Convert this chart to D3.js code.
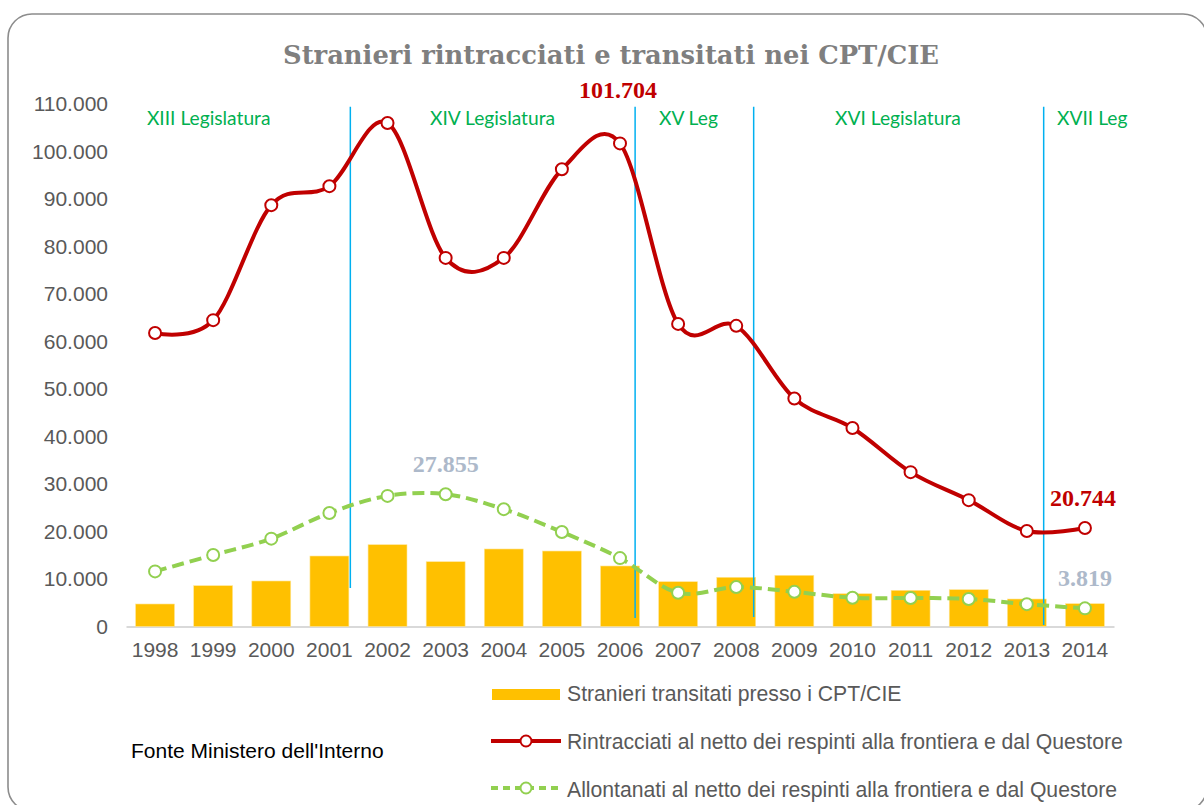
<!DOCTYPE html>
<html>
<head>
<meta charset="utf-8">
<script src="https://cdn.jsdelivr.net/npm/d3@7/dist/d3.min.js"></script>
<style>
  html, body { margin: 0; padding: 0; background: #fff; }
  svg { display: block; }
</style>
</head>
<body>
<svg id="chart" width="1204" height="805"></svg>
<script>
// ---------- DATA ----------
const years = ["1998","1999","2000","2001","2002","2003","2004","2005","2006","2007","2008","2009","2010","2011","2012","2013","2014"];
const transitati = [4740, 8590, 9580, 14840, 17220, 13640, 16320, 15890, 12740, 9430, 10360, 10780, 6900, 7620, 7750, 5790, 4800];
const rintracciati = [61800, 64500, 88700, 92700, 106000, 77600, 77600, 96250, 101704, 63700, 63300, 48000, 41800, 32500, 26600, 20100, 20744];
const allontanati = [11600, 15050, 18500, 23900, 27500, 27855, 24700, 19900, 14400, 7100, 8300, 7300, 6050, 6000, 5800, 4700, 3819];
const yTicks = [0, 10000, 20000, 30000, 40000, 50000, 60000, 70000, 80000, 90000, 100000, 110000];
const legislature = ["XIII Legislatura", "XIV Legislatura", "XV Leg", "XVI Legislatura", "XVII Leg"];
const legislatureStart = [2001.36, 2006.26, 2008.30, 2013.29];   // boundaries (fractional year)
const legislatureLineBottom = [8100, 1800, 2000, 300];           // lower end of each boundary line (value units)
const legislatureLabelAt = [1997.86, 2002.73, 2006.67, 2009.70, 2013.52];
const highlightRed = [{year: "2006", value: 101704}, {year: "2014", value: 20744}];
const highlightGreen = [{year: "2003", value: 27855}, {year: "2014", value: 3819}];
const seriesNames = ["Stranieri transitati presso i CPT/CIE",
                     "Rintracciati al netto dei respinti alla frontiera e dal Questore",
                     "Allontanati al netto dei respinti alla frontiera e dal Questore"];
const titleText = "Stranieri rintracciati e transitati nei CPT/CIE";
const sourceText = "Fonte Ministero dell'Interno";

// ---------- STYLE ----------
const C = {
  bar: "#FFC000", red: "#C00000", green: "#92D050", leg: "#00B050",
  vline: "#00B0F0", axisText: "#595959", axisLine: "#D9D9D9",
  title: "#7F7F7F", greenLabel: "#ADB9CA", frame: "#8C8C8C"
};
const sans = "'Liberation Sans', Arial, sans-serif";
const serif = "'Liberation Serif', 'Times New Roman', serif";
const titleSerif = "'DejaVu Serif', serif";
const cal = "Lato, 'Open Sans', sans-serif";

const svg = d3.select("#chart");
const loc = d3.formatLocale({decimal: ",", thousands: ".", grouping: [3], currency: ["", "€"]});
const fmt = loc.format(",d");

// frame
svg.append("rect").attr("x", 8).attr("y", 14).attr("width", 1199).attr("height", 797)
  .attr("rx", 24).attr("ry", 24).attr("fill", "#fff").attr("stroke", C.frame).attr("stroke-width", 1.6);

// scales
const x = d3.scaleBand().domain(years).range([126, 1114]).paddingInner(0.33).paddingOuter(0.165);
const bw = x.bandwidth();
const cx = d => x(d) + bw / 2;
const xc = d3.scaleLinear().domain([1998, 2014]).range([cx("1998"), cx("2014")]);
const y = d3.scaleLinear().domain([0, 110000]).range([626.5, 104]);

// title
svg.append("text").attr("x", 611).attr("y", 64).attr("text-anchor", "middle")
  .attr("font-family", titleSerif).attr("font-weight", "bold").attr("font-size", 25.8)
  .attr("fill", C.title).text(titleText);

// y axis
const yAxis = d3.axisLeft(y).tickValues(yTicks).tickFormat(d => fmt(d)).tickSize(0).tickPadding(0);
const gy = svg.append("g").attr("transform", "translate(108,0)").call(yAxis);
gy.select(".domain").remove();
gy.selectAll("text").attr("font-family", sans).attr("font-size", 21).attr("fill", C.axisText);

// x axis
const xAxis = d3.axisBottom(x).tickSize(0).tickPadding(16);
const gx = svg.append("g").attr("transform", `translate(0,${y(0)})`).call(xAxis);
gx.select(".domain").attr("stroke", C.axisLine).attr("stroke-width", 2);
gx.selectAll("text").attr("font-family", sans).attr("font-size", 21).attr("fill", C.axisText);

// bars
svg.append("g").selectAll("rect").data(transitati).join("rect")
  .attr("x", (d, i) => x(years[i])).attr("width", bw)
  .attr("y", d => y(d)).attr("height", d => y(0) - y(d))
  .attr("fill", C.bar).attr("stroke", "#FFE699").attr("stroke-width", 0.6);

// legislature boundary lines
svg.append("g").selectAll("line").data(legislatureStart).join("line")
  .attr("x1", d => xc(d)).attr("x2", d => xc(d))
  .attr("y1", y(109400)).attr("y2", (d, i) => y(legislatureLineBottom[i]))
  .attr("stroke", C.vline).attr("stroke-width", 1.5);

// legislature labels
svg.append("g").selectAll("text").data(legislature).join("text")
  .attr("x", (d, i) => xc(legislatureLabelAt[i])).attr("y", y(105500))
  .attr("font-family", cal).attr("font-size", 19.2).attr("fill", C.leg).text(d => d);

// lines
const line = d3.line().x((d, i) => cx(years[i])).y(d => y(d)).curve(d3.curveCatmullRom.alpha(0));

svg.append("path").datum(allontanati).attr("d", line)
  .attr("fill", "none").attr("stroke", C.green).attr("stroke-width", 4)
  .attr("stroke-dasharray", "12,6");
svg.append("path").datum(rintracciati).attr("d", line)
  .attr("fill", "none").attr("stroke", C.red).attr("stroke-width", 4);

svg.append("g").selectAll("circle").data(allontanati).join("circle")
  .attr("cx", (d, i) => cx(years[i])).attr("cy", d => y(d)).attr("r", 6)
  .attr("fill", "#fff").attr("stroke", C.green).attr("stroke-width", 2);
svg.append("g").selectAll("circle").data(rintracciati).join("circle")
  .attr("cx", (d, i) => cx(years[i])).attr("cy", d => y(d)).attr("r", 6)
  .attr("fill", "#fff").attr("stroke", C.red).attr("stroke-width", 2);

// data labels
svg.append("g").selectAll("text").data(highlightRed).join("text")
  .attr("x", d => cx(d.year) - 2).attr("y", (d, i) => i === 0 ? 98 : y(d.value) - 22)
  .attr("text-anchor", "middle").attr("font-family", serif).attr("font-weight", "bold")
  .attr("font-size", 24).attr("fill", C.red).text(d => fmt(d.value));
svg.append("g").selectAll("text").data(highlightGreen).join("text")
  .attr("x", d => cx(d.year)).attr("y", d => y(d.value) - 22)
  .attr("text-anchor", "middle").attr("font-family", serif).attr("font-weight", "bold")
  .attr("font-size", 24).attr("fill", C.greenLabel).text(d => fmt(d.value));

// legend
const lg = svg.append("g");
const lx0 = 491, lx1 = 561, lxm = 526;
lg.append("rect").attr("x", 492).attr("y", 689).attr("width", 68).attr("height", 11).attr("fill", C.bar);
lg.append("line").attr("x1", lx0).attr("x2", lx1).attr("y1", 741).attr("y2", 741)
  .attr("stroke", C.red).attr("stroke-width", 4);
lg.append("circle").attr("cx", lxm).attr("cy", 741).attr("r", 5.5)
  .attr("fill", "#fff").attr("stroke", C.red).attr("stroke-width", 2);
lg.append("line").attr("x1", lx0).attr("x2", lx1).attr("y1", 788).attr("y2", 788)
  .attr("stroke", C.green).attr("stroke-width", 4).attr("stroke-dasharray", "7,5");
lg.append("circle").attr("cx", lxm).attr("cy", 788).attr("r", 5.5)
  .attr("fill", "#fff").attr("stroke", C.green).attr("stroke-width", 2);
lg.selectAll("text").data(seriesNames).join("text")
  .attr("x", 567).attr("y", (d, i) => [701, 749, 797][i])
  .attr("font-family", sans).attr("font-size", 21.2).attr("fill", C.axisText).text(d => d);

// source
svg.append("text").attr("x", 131).attr("y", 758).attr("font-family", sans)
  .attr("font-size", 21).attr("fill", "#000").text(sourceText);
</script>
</body>
</html>
